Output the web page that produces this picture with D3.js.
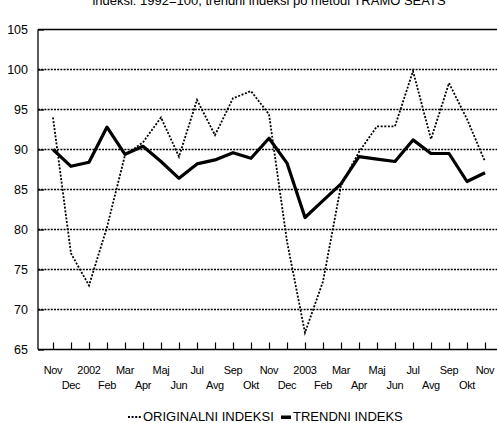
<!DOCTYPE html>
<html><head><meta charset="utf-8">
<script src="https://cdn.jsdelivr.net/npm/d3@7"></script>
<style>body{margin:0;background:#fff;}svg{display:block;font-family:"Liberation Sans",Arial,sans-serif;}</style>
</head><body><svg id="c" width="497" height="423"></svg>
<script>
const months = ["Nov","Dec","2002","Feb","Mar","Apr","Maj","Jun","Jul","Avg","Sep","Okt","Nov","Dec","2003","Feb","Mar","Apr","Maj","Jun","Jul","Avg","Sep","Okt","Nov"];
const original = [94.0,77.0,73.0,80.3,89.3,90.9,94.0,89.1,96.2,91.8,96.4,97.3,94.4,78.5,67.1,73.5,85.5,89.7,92.9,92.9,99.8,91.3,98.3,93.8,88.5];
const trend = [90.0,87.9,88.4,92.8,89.4,90.4,88.5,86.4,88.2,88.7,89.6,88.9,91.4,88.3,81.5,83.6,85.7,89.1,88.8,88.5,91.2,89.5,89.5,86.0,87.1];
const yTicks = [65,70,75,80,85,90,95,100,105];
const titleText = "indeksi: 1992=100, trendni indeksi po metodi TRAMO SEATS";
const legendLabels = ["ORIGINALNI INDEKSI","TRENDNI INDEKS"];

const svg = d3.select("#c");
const L = 38, R = 497, T = 29.5, B = 349.5;
const x = d3.scalePoint().domain(d3.range(months.length)).range([53, 485]);
const y = d3.scaleLinear().domain([65,105]).range([B, T]);

// title (cut off at top)
svg.append("text").attr("x", 269).attr("y", 5).attr("text-anchor","middle")
  .attr("font-size", 13).text(titleText);

// gridlines
svg.append("g").selectAll("line").data(yTicks.filter(v => v>65 && v<105)).join("line")
  .attr("x1", L).attr("x2", R).attr("y1", d=>y(d)).attr("y2", d=>y(d))
  .attr("stroke","#000").attr("stroke-width",1.6).attr("stroke-dasharray","2,1.2");

// top border
svg.append("line").attr("x1",L).attr("x2",R).attr("y1",T).attr("y2",T).attr("stroke","#000").attr("stroke-width",1.3);

// y axis
const yAxis = d3.axisLeft(y).tickValues(yTicks).tickSize(-6).tickPadding(10);
const gy = svg.append("g").attr("transform",`translate(${L},0)`).call(yAxis);
gy.select(".domain").remove();
gy.selectAll(".tick line").attr("stroke","#000").attr("stroke-width",1.2);
gy.selectAll(".tick text").attr("font-size",12.5).attr("fill","#000").attr("font-family","Liberation Sans, Arial, sans-serif");
svg.append("line").attr("x1",L).attr("x2",L).attr("y1",T).attr("y2",B).attr("stroke","#000").attr("stroke-width",1.3);

// x axis
const xAxis = d3.axisBottom(x).tickSize(-7).tickFormat("");
const gx = svg.append("g").attr("transform",`translate(0,${B})`).call(xAxis);
gx.select(".domain").remove();
gx.selectAll(".tick line").attr("stroke","#000").attr("stroke-width",1.2);
svg.append("line").attr("x1",L).attr("x2",R).attr("y1",B).attr("y2",B).attr("stroke","#000").attr("stroke-width",1.5);

svg.append("g").selectAll("text").data(months).join("text")
  .attr("x",(d,i)=>x(i)).attr("y",(d,i)=> i%2===0 ? 374 : 389)
  .attr("text-anchor","middle").attr("font-size",11).attr("letter-spacing","-0.3")
  .text(d=>d);

// lines
const line = d3.line().x((d,i)=>x(i)).y(d=>y(d));
svg.append("path").datum(original).attr("d",line).attr("fill","none")
  .attr("stroke","#000").attr("stroke-width",1.8).attr("stroke-dasharray","2,1.6");
svg.append("path").datum(trend).attr("d",line).attr("fill","none")
  .attr("stroke","#000").attr("stroke-width",3.2).attr("stroke-linejoin","round");

// legend
const lg = svg.append("g");
lg.append("line").attr("x1",128).attr("x2",141).attr("y1",417).attr("y2",417)
  .attr("stroke","#000").attr("stroke-width",1.8).attr("stroke-dasharray","2,1.6");
lg.append("text").attr("x",143).attr("y",421).attr("font-size",13).text(legendLabels[0]);
lg.append("rect").attr("x",281).attr("y",415.5).attr("width",10).attr("height",3.5).attr("fill","#000");
lg.append("text").attr("x",293).attr("y",421).attr("font-size",13).text(legendLabels[1]);
</script></body></html>
